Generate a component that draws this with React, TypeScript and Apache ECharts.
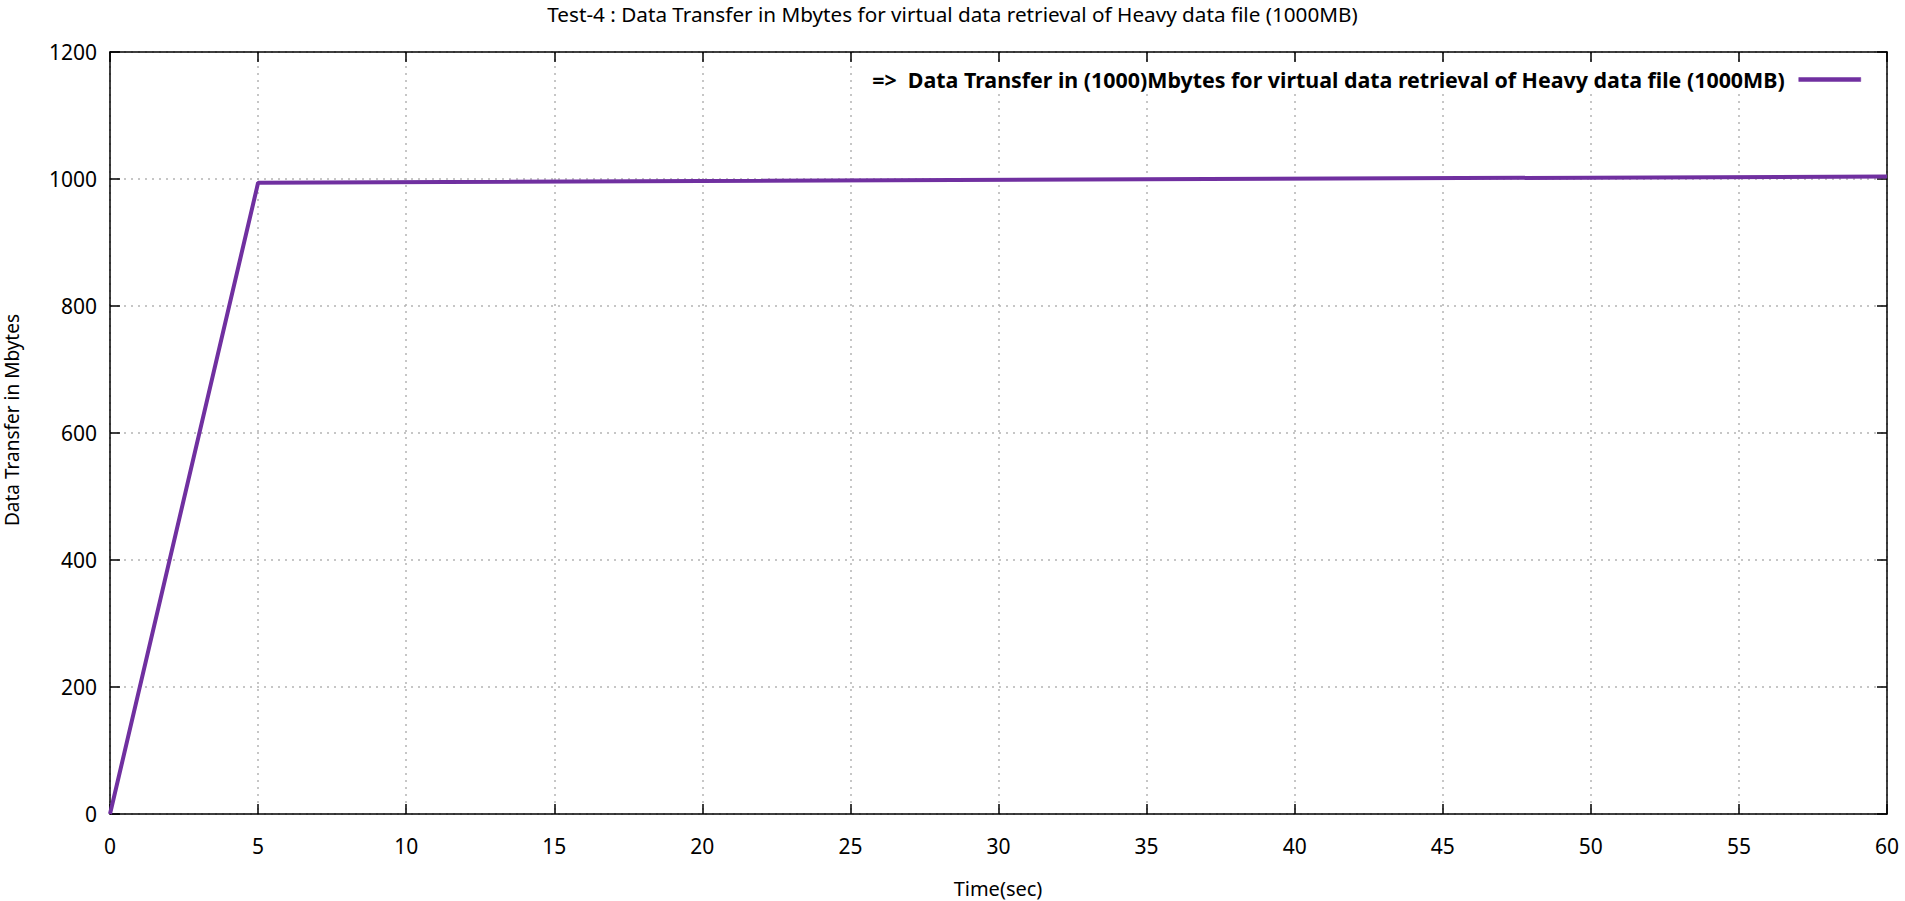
import React, { useEffect, useRef } from "react";
import * as echarts from "echarts";

const timeSec = [0, 5, 60];
const transferMB = [0, 994, 1004];
const seriesName = "=>  Data Transfer in (1000)Mbytes for virtual data retrieval of Heavy data file (1000MB)";
const chartTitle = "Test-4 : Data Transfer in Mbytes for virtual data retrieval of Heavy data file (1000MB)";
const xName = "Time(sec)";
const yName = "Data Transfer in Mbytes";

export default function App() {
  const ref = useRef<HTMLDivElement>(null);
  useEffect(() => {
    if (!ref.current) return;
    const chart = echarts.init(ref.current, null, { renderer: "svg" });
    const font = "'Noto Sans', 'Open Sans', sans-serif";
    const data = timeSec.map((t, i) => [t, transferMB[i]]);
    const axisLine = { show: true, onZero: false, lineStyle: { color: "#000", width: 1.5 } };
    const tick = { show: true, inside: true, length: 10, lineStyle: { color: "#000", width: 1.5 } };
    const split = { show: true, lineStyle: { color: "#b4b4b4", width: 1.5, type: [2, 5] as any } };
    chart.setOption({
      animation: false,
      backgroundColor: "#fff",
      textStyle: { fontFamily: font },
      title: {
        text: chartTitle,
        left: "center",
        top: 3,
        padding: 0,
        textStyle: { fontFamily: font, fontSize: 20.7, fontWeight: "normal", color: "#000" },
      },
      grid: { left: 110, right: 18, top: 52, bottom: 87, containLabel: false },
      legend: {
        show: true,
        right: 38,
        top: 65,
        align: "right",
        icon: "rect",
        itemWidth: 62,
        itemHeight: 4,
        itemStyle: { color: "#7030a0", borderColor: "#7030a0", borderWidth: 0.5 },
        lineStyle: { width: 0 },
        backgroundColor: "#fff",
        padding: [4, 6, 4, 6],
        textStyle: { fontFamily: font, fontSize: 21.4, fontWeight: "bold", color: "#000", padding: [0, 9, 0, 0] },
        data: [seriesName],
      },
      xAxis: [
        {
          type: "value",
          min: 0,
          max: 60,
          interval: 5,
          position: "bottom",
          axisLine,
          axisTick: tick,
          axisLabel: { margin: 21, fontSize: 21, color: "#000", fontFamily: font },
          splitLine: split,
        },
        {
          type: "value",
          min: 0,
          max: 60,
          interval: 5,
          position: "top",
          axisLine,
          axisTick: tick,
          axisLabel: { show: false },
          splitLine: { show: false },
        },
      ],
      yAxis: [
        {
          type: "value",
          min: 0,
          max: 1200,
          interval: 200,
          position: "left",
          axisLine,
          axisTick: tick,
          axisLabel: { margin: 13, fontSize: 21, color: "#000", fontFamily: font, formatter: (v: number) => String(v) },
          splitLine: split,
        },
        {
          type: "value",
          min: 0,
          max: 1200,
          interval: 200,
          position: "right",
          axisLine,
          axisTick: tick,
          axisLabel: { show: false },
          splitLine: { show: false },
        },
      ],
      graphic: [
        {
          type: "text",
          x: 998,
          y: 888,
          style: { text: xName, fontFamily: font, fontSize: 20, fill: "#000", align: "center", verticalAlign: "middle" },
        },
        {
          type: "text",
          x: 12,
          y: 420,
          rotation: Math.PI / 2,
          style: { text: yName, fontFamily: font, fontSize: 19, fill: "#000", align: "center", verticalAlign: "middle" },
        },
      ],
      series: [
        {
          name: seriesName,
          type: "line",
          xAxisIndex: 0,
          yAxisIndex: 0,
          data,
          showSymbol: false,
          symbol: "none",
          itemStyle: { color: "#7030a0" },
          lineStyle: { color: "#7030a0", width: 4 },
        },
      ],
    });
    return () => chart.dispose();
  }, []);
  return (
    <div
      ref={ref}
      style={{ position: "fixed", left: 0, top: 0, width: 1905, height: 901, background: "#fff" }}
    />
  );
}
